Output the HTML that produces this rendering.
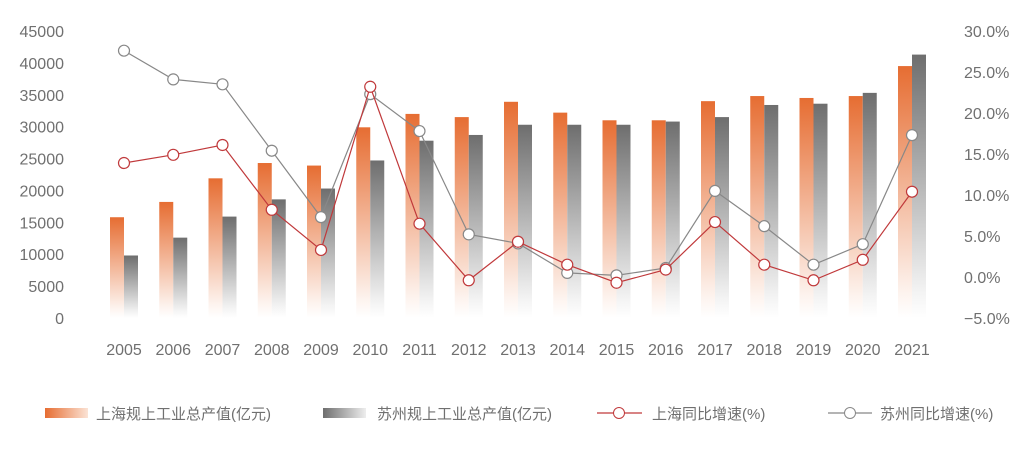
<!DOCTYPE html>
<html><head><meta charset="utf-8"><style>
body{margin:0;background:#fff;width:1028px;height:461px;overflow:hidden}
text{font-family:"Liberation Sans","Noto Sans CJK SC",sans-serif;fill:#707070}
</style></head><body>
<svg id="chart" width="1028" height="461" xmlns="http://www.w3.org/2000/svg">
<defs>
<linearGradient id="go" x1="0" y1="0" x2="0" y2="1"><stop offset="0" stop-color="#e66d32"/><stop offset="0.9" stop-color="#fdf3ee"/><stop offset="1" stop-color="#fff"/></linearGradient>
<linearGradient id="gg" x1="0" y1="0" x2="0" y2="1"><stop offset="0" stop-color="#6e6e6e"/><stop offset="0.9" stop-color="#f3f3f3"/><stop offset="1" stop-color="#fff"/></linearGradient>
<linearGradient id="lo" x1="0" y1="0" x2="1" y2="0"><stop offset="0" stop-color="#e66d32"/><stop offset="1" stop-color="#fbe3d5"/></linearGradient>
<linearGradient id="lg" x1="0" y1="0" x2="1" y2="0"><stop offset="0" stop-color="#6e6e6e"/><stop offset="1" stop-color="#eee"/></linearGradient>
</defs>
<g id="bars"></g><g id="lines"></g><g id="axes"></g>
<g>
<rect x="45" y="408" width="43" height="10" fill="url(#lo)"/>
<text x="96" y="419" font-size="15">上海规上工业总产值(亿元)</text>
<rect x="323" y="408" width="43" height="10" fill="url(#lg)"/>
<text x="377" y="419" font-size="15">苏州规上工业总产值(亿元)</text>
<g><line x1="597" y1="413" x2="642" y2="413" stroke="#c0393b" stroke-width="1.2"/><circle cx="619" cy="413" r="5.5" fill="#fff" stroke="#c0393b"/></g>
<text x="652" y="419" font-size="15">上海同比增速(%)</text>
<g><line x1="828" y1="413" x2="872" y2="413" stroke="#888" stroke-width="1.2"/><circle cx="850" cy="413" r="5.5" fill="#fff" stroke="#888"/></g>
<text x="880" y="419" font-size="15">苏州同比增速(%)</text>
</g>
</svg>
<script>
const years=["2005","2006","2007","2008","2009","2010","2011","2012","2013","2014","2015","2016","2017","2018","2019","2020","2021"];
const shOutput=[15800,18200,21900,24300,23900,29900,32000,31500,33900,32200,31000,31000,34000,34800,34500,34800,39500];
const szOutput=[9800,12600,15900,18600,20300,24700,27800,28700,30300,30300,30300,30800,31500,33400,33600,35300,41300];
const shGrowth=[13.9,14.9,16.1,8.2,3.3,23.2,6.5,-0.4,4.3,1.5,-0.7,0.9,6.7,1.5,-0.4,2.1,10.4];
const szGrowth=[27.6,24.1,23.5,15.4,7.3,22.3,17.8,5.2,4.1,0.5,0.2,1.1,10.5,6.2,1.5,4.0,17.3];
const leftTicks=[0,5000,10000,15000,20000,25000,30000,35000,40000,45000];
const rightTicks=[-5,0,5,10,15,20,25,30];
const NS="http://www.w3.org/2000/svg";
const yL=v=>318-v*(287/45000);
const yR=v=>318-(v+5)*(287/35);
const xC=i=>124+i*49.25;
function mk(tag,attrs,parent){const e=document.createElementNS(NS,tag);for(const k in attrs)e.setAttribute(k,attrs[k]);document.getElementById(parent).appendChild(e);return e;}
leftTicks.forEach(t=>{const e=mk('text',{x:64,y:yL(t)+6,'font-size':16,'text-anchor':'end'},'axes');e.textContent=t;

});
rightTicks.forEach(t=>{const e=mk('text',{x:964,y:yR(t)+6,'font-size':16},'axes');e.textContent=(t<0?'−':'')+Math.abs(t).toFixed(1)+'%';

});
years.forEach((y,i)=>{const e=mk('text',{x:xC(i),y:355,'font-size':16,'text-anchor':'middle'},'axes');e.textContent=y;


const b1=mk('rect',{x:xC(i)-14,y:yL(shOutput[i]),width:14,height:318-yL(shOutput[i]),fill:'url(#go)'},'bars');


const b2=mk('rect',{x:xC(i),y:yL(szOutput[i]),width:14,height:318-yL(szOutput[i]),fill:'url(#gg)'},'bars');

});
function line(data,color,name){
const p=mk('polyline',{points:data.map((v,i)=>xC(i)+','+yR(v)).join(' '),fill:'none',stroke:color,'stroke-width':1.2},'lines');


data.forEach((v,i)=>{const c=mk('circle',{cx:xC(i),cy:yR(v),r:5.5,fill:'#fff',stroke:color,'stroke-width':1.2},'lines');

});}
line(szGrowth,'#888','suzhou-growth');
line(shGrowth,'#c0393b','shanghai-growth');
</script>
</body></html>
